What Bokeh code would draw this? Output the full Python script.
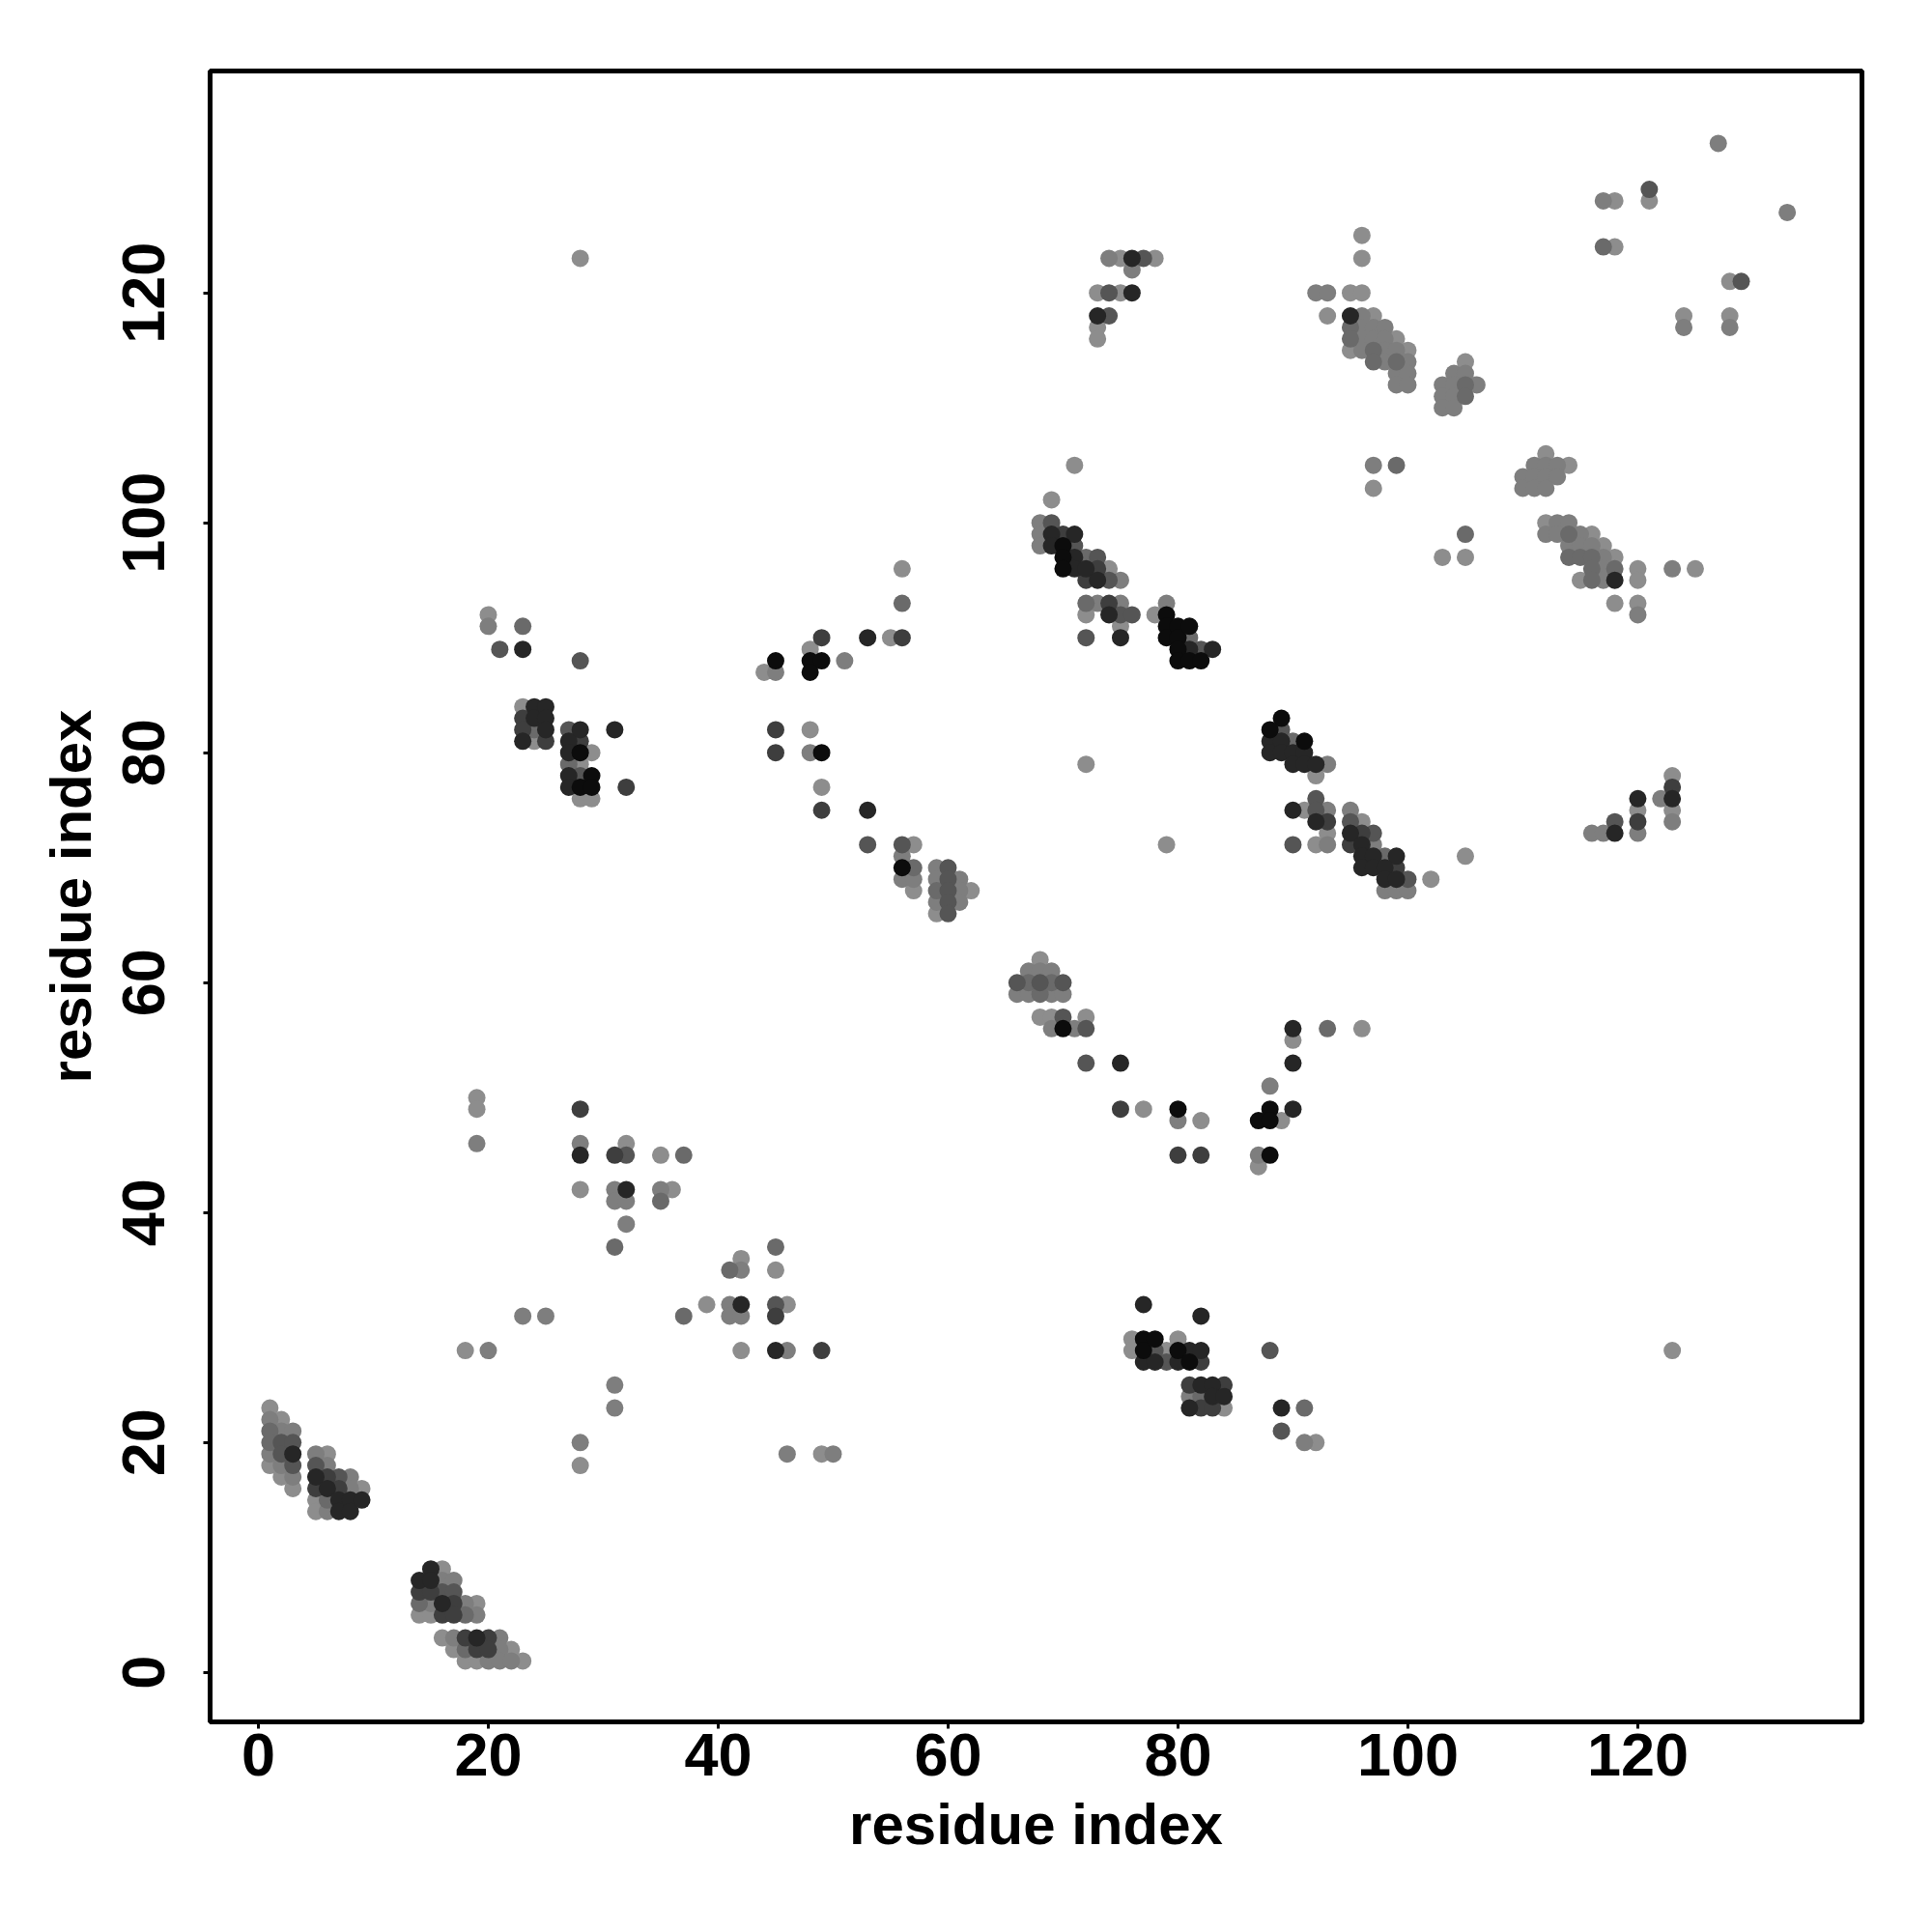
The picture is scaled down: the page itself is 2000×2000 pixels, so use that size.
from bokeh.plotting import figure
from bokeh.models import Range1d, FixedTicker, ColumnDataSource
from bokeh.embed import file_html
from bokeh.resources import INLINE

# contacts: (residue i, residue j, shade level 1 = light grey ... 7 = black)
block_helix1 = [
    (1, 23, 1), (1, 22, 2), (1, 21, 3), (1, 20, 3), (1, 19, 2), (1, 18, 1),
    (2, 22, 1), (2, 21, 2), (2, 20, 4), (2, 19, 4), (2, 18, 2), (2, 17, 1),
    (3, 21, 2), (3, 20, 4), (3, 19, 6), (3, 18, 4), (3, 17, 2), (3, 16, 1),
    (5, 19, 2), (5, 18, 4), (5, 17, 6), (5, 16, 5), (5, 15, 1), (5, 14, 1),
    (6, 19, 1), (6, 18, 2), (6, 17, 5), (6, 16, 6), (6, 15, 3), (6, 14, 2),
    (7, 17, 4), (7, 16, 5), (7, 15, 6), (7, 14, 6),
    (8, 17, 2), (8, 16, 2), (8, 15, 6), (8, 14, 6),
    (9, 16, 1), (9, 15, 6),
]

block_helix2 = [
    (14, 8, 6), (14, 7, 5), (14, 6, 3), (14, 5, 1),
    (15, 9, 6), (15, 8, 6), (15, 7, 5), (15, 6, 2), (15, 5, 1),
    (16, 9, 1), (16, 8, 2), (16, 7, 4), (16, 6, 6), (16, 5, 5), (16, 3, 1),
    (17, 8, 2), (17, 7, 4), (17, 6, 5), (17, 5, 5), (17, 3, 2), (17, 2, 1),
    (18, 6, 2), (18, 5, 3), (18, 3, 5), (18, 2, 3), (18, 1, 1),
    (19, 6, 1), (19, 5, 2), (19, 3, 6), (19, 2, 5), (19, 1, 1),
    (20, 3, 5), (20, 2, 5), (20, 1, 2),
    (21, 3, 2), (21, 2, 2), (21, 1, 2),
    (22, 2, 1), (22, 1, 2),
    (23, 1, 1),
]

block_scatter_low = [
    (19, 50, 1), (19, 49, 1), (19, 46, 2), (28, 49, 5), (28, 46, 2), (28, 45, 6),
    (31, 45, 5), (32, 46, 1), (32, 45, 4), (35, 45, 1), (37, 45, 3),
    (28, 42, 1), (31, 42, 2), (31, 41, 2), (32, 42, 6), (32, 41, 2),
    (35, 42, 2), (35, 41, 3), (36, 42, 1), (32, 39, 2), (31, 37, 3),
    (45, 37, 3), (41, 35, 3), (42, 36, 1), (42, 35, 2), (45, 35, 1),
    (23, 31, 2), (25, 31, 2), (37, 31, 3), (39, 32, 1), (41, 32, 2), (41, 31, 2),
    (42, 32, 6), (42, 31, 2), (45, 32, 4), (45, 31, 5), (46, 32, 1),
    (18, 28, 1), (20, 28, 2), (42, 28, 1), (45, 28, 6), (46, 28, 2), (49, 28, 5),
    (31, 25, 2), (31, 23, 2), (28, 20, 2), (28, 18, 1),
    (46, 19, 2), (49, 19, 1), (50, 19, 2),
]

block_sheet_a = [
    (20, 92, 1), (20, 91, 2), (23, 91, 3), (21, 89, 4), (23, 89, 6), (28, 88, 4),
    (23, 84, 1), (23, 83, 5), (23, 82, 5), (23, 81, 6),
    (24, 84, 6), (24, 83, 6), (24, 82, 3), (24, 81, 1),
    (25, 84, 6), (25, 83, 6), (25, 82, 6), (25, 81, 5),
    (27, 82, 4), (27, 81, 6), (27, 80, 6), (27, 79, 3), (27, 78, 6), (27, 77, 6),
    (28, 82, 6), (28, 81, 5), (28, 80, 7), (28, 79, 1), (28, 78, 4), (28, 77, 7), (28, 76, 1),
    (29, 80, 1), (29, 78, 7), (29, 77, 7), (29, 76, 1),
    (31, 82, 6), (32, 77, 5),
]

block_sheet_b = [
    (56, 96, 1), (56, 93, 3), (49, 90, 5), (53, 90, 6), (55, 90, 1), (56, 90, 5),
    (48, 89, 1), (45, 88, 7), (48, 88, 7), (49, 88, 7), (51, 88, 2),
    (44, 87, 1), (45, 87, 2), (48, 87, 7),
    (45, 82, 5), (48, 82, 1), (45, 80, 5), (48, 80, 2), (49, 80, 7),
    (49, 77, 1), (49, 75, 5), (53, 75, 6), (53, 72, 4),
    (56, 72, 4), (57, 72, 1), (56, 71, 2), (56, 70, 7), (57, 70, 3),
    (56, 69, 2), (57, 69, 2), (57, 68, 1),
    (59, 70, 2), (59, 69, 2), (59, 68, 3), (59, 67, 2), (59, 66, 1),
    (60, 70, 4), (60, 69, 4), (60, 68, 4), (60, 67, 4), (60, 66, 4),
    (61, 69, 2), (61, 68, 2), (61, 67, 2), (62, 68, 1),
]

block_mid = [
    (68, 62, 1), (67, 61, 2), (68, 61, 2), (69, 61, 2),
    (66, 60, 4), (67, 60, 3), (68, 60, 4), (69, 60, 3), (70, 60, 4),
    (66, 59, 2), (67, 59, 2), (68, 59, 3), (69, 59, 2), (70, 59, 2),
    (68, 57, 1), (69, 57, 1), (70, 57, 4), (72, 57, 1),
    (69, 56, 2), (70, 56, 7), (71, 56, 2), (72, 56, 4),
    (72, 53, 4), (75, 53, 6), (75, 49, 5), (77, 49, 1), (80, 49, 7),
    (80, 48, 2), (82, 48, 1), (80, 45, 5), (82, 45, 5),
]

block_band_a = [
    (71, 105, 1), (69, 102, 1), (68, 100, 2), (69, 100, 4),
    (68, 99, 2), (69, 99, 6), (70, 99, 5), (71, 99, 6),
    (68, 98, 2), (69, 98, 6), (70, 98, 7), (71, 98, 4),
    (70, 97, 7), (71, 97, 6), (72, 97, 3), (73, 97, 4),
    (70, 96, 7), (71, 96, 6), (72, 96, 6), (73, 96, 5), (74, 96, 1),
    (72, 95, 5), (73, 95, 6), (74, 95, 4), (75, 95, 2),
    (72, 93, 3), (73, 93, 2), (74, 93, 5), (75, 93, 2),
    (72, 92, 1), (74, 92, 6), (75, 92, 4), (76, 92, 4),
    (75, 91, 1), (72, 90, 4), (75, 90, 6),
    (78, 92, 1), (79, 93, 2), (79, 92, 7), (79, 91, 7), (79, 90, 7),
    (80, 91, 7), (80, 90, 7), (80, 89, 7), (80, 88, 7),
    (81, 91, 7), (81, 90, 3), (81, 89, 6), (81, 88, 7),
    (82, 89, 4), (82, 88, 7), (83, 89, 6),
]

block_band_b = [
    (89, 83, 7), (88, 82, 7), (89, 82, 4),
    (88, 81, 6), (89, 81, 6), (90, 81, 3), (91, 81, 7),
    (88, 80, 6), (89, 80, 6), (90, 80, 6), (91, 80, 6),
    (90, 79, 6), (91, 79, 6), (92, 79, 6), (93, 79, 2),
    (92, 78, 1), (92, 76, 4),
    (90, 75, 6), (91, 75, 1), (92, 75, 4), (93, 75, 2), (95, 75, 2),
    (92, 74, 6), (93, 74, 5), (95, 74, 4), (96, 74, 1),
    (93, 73, 1), (95, 73, 6), (96, 73, 5), (97, 73, 4),
    (90, 72, 4), (92, 72, 1), (93, 72, 2), (95, 72, 5), (96, 72, 6), (97, 72, 2),
    (96, 71, 6), (97, 71, 6), (98, 71, 3), (99, 71, 6),
    (96, 70, 6), (97, 70, 6), (98, 70, 6), (99, 70, 5),
    (98, 69, 6), (99, 69, 6), (100, 69, 4), (102, 69, 1),
    (98, 68, 2), (99, 68, 2), (100, 68, 2), (105, 71, 1),
    (90, 56, 6), (93, 56, 3), (96, 56, 1), (90, 55, 1), (90, 53, 6),
    (88, 51, 2), (88, 49, 7), (90, 49, 6), (87, 48, 7), (88, 48, 7), (89, 48, 1),
    (87, 45, 2), (88, 45, 7), (87, 44, 1),
]

block_low_right = [
    (77, 32, 6), (82, 31, 6), (88, 28, 4),
    (76, 29, 1), (76, 28, 1),
    (77, 29, 7), (77, 28, 7), (77, 27, 6),
    (78, 29, 7), (78, 28, 4), (78, 27, 6),
    (79, 28, 1), (79, 27, 4),
    (80, 29, 1), (80, 28, 7), (80, 27, 6),
    (81, 28, 6), (81, 27, 7), (82, 28, 6), (82, 27, 5),
    (81, 25, 5), (81, 24, 2), (81, 23, 6),
    (82, 25, 6), (82, 24, 3), (82, 23, 5),
    (83, 25, 6), (83, 24, 6), (83, 23, 5),
    (84, 25, 5), (84, 24, 6), (84, 23, 1),
    (89, 23, 6), (91, 23, 3), (89, 21, 4), (91, 20, 2), (92, 20, 1),
]

block_top_mid = [
    (74, 123, 2), (75, 123, 1), (76, 123, 6), (77, 123, 4), (78, 123, 1), (76, 122, 2),
    (73, 120, 1), (74, 120, 4), (75, 120, 1), (76, 120, 6),
    (73, 118, 6), (74, 118, 4), (73, 117, 1), (73, 116, 1),
    (96, 125, 1), (96, 123, 1),
    (92, 120, 2), (93, 120, 2), (95, 120, 1), (96, 120, 1),
    (93, 118, 1), (95, 118, 6), (96, 118, 2), (97, 118, 1),
    (95, 117, 3), (96, 117, 2), (97, 117, 2), (98, 117, 2),
    (95, 116, 3), (96, 116, 2), (97, 116, 2), (98, 116, 2), (99, 116, 1),
    (95, 115, 1), (96, 115, 2), (97, 115, 3), (98, 115, 2), (99, 115, 2), (100, 115, 1),
    (97, 114, 3), (98, 114, 2), (99, 114, 3), (100, 114, 2),
    (99, 113, 2), (100, 113, 2), (99, 112, 2), (100, 112, 2),
    (105, 114, 1), (104, 113, 2), (105, 113, 2),
    (103, 112, 2), (104, 112, 2), (105, 112, 3), (106, 112, 2),
    (103, 111, 2), (104, 111, 2), (105, 111, 3), (103, 110, 2), (104, 110, 2),
    (97, 105, 2), (99, 105, 3), (97, 103, 1), (105, 99, 3), (103, 97, 1), (105, 97, 1),
]

block_top_right = [
    (127, 133, 2), (133, 127, 2), (121, 129, 4), (121, 128, 1),
    (117, 128, 2), (118, 128, 1), (117, 124, 3), (118, 124, 1),
    (128, 121, 1), (129, 121, 4), (124, 118, 1), (124, 117, 2),
    (128, 118, 1), (128, 117, 2),
    (112, 106, 1),
    (111, 105, 2), (112, 105, 2), (113, 105, 2), (114, 105, 1),
    (110, 104, 2), (111, 104, 2), (112, 104, 2), (113, 104, 2),
    (110, 103, 2), (111, 103, 2), (112, 103, 2),
    (112, 100, 1), (113, 100, 2), (114, 100, 2),
    (112, 99, 2), (113, 99, 2), (114, 99, 3), (115, 99, 2), (116, 99, 1),
    (114, 98, 2), (115, 98, 2), (116, 98, 2), (117, 98, 1),
    (114, 97, 3), (115, 97, 3), (116, 97, 3), (117, 97, 2), (118, 97, 1),
    (116, 96, 3), (117, 96, 2), (118, 96, 3), (120, 96, 1), (123, 96, 2), (125, 96, 1),
    (115, 95, 1), (116, 95, 3), (117, 95, 2), (118, 95, 6), (120, 95, 1),
    (118, 93, 1), (120, 93, 1), (120, 92, 2),
    (116, 73, 2), (117, 73, 2), (118, 73, 6), (120, 73, 2),
    (118, 74, 4), (120, 74, 5), (120, 75, 1), (120, 76, 6),
    (122, 76, 2), (123, 76, 6), (123, 77, 5), (123, 78, 1), (123, 75, 1), (123, 74, 2),
]

block_isolated = [(72, 79, 1), (79, 72, 1), (123, 28, 1), (28, 123, 1)]

x_ticks = [0, 20, 40, 60, 80, 100, 120]
y_ticks = [0, 20, 40, 60, 80, 100, 120]
axis_title = "residue index"

shade_colors = {1: "#8d8d8d", 2: "#7e7e7e", 3: "#6a6a6a", 4: "#555555",
                5: "#3e3e3e", 6: "#262626", 7: "#0c0c0c"}

blocks = [block_helix1, block_helix2, block_scatter_low, block_sheet_a, block_sheet_b,
          block_mid, block_band_a, block_band_b, block_low_right, block_top_mid,
          block_top_right, block_isolated]
allpts = [t for b in blocks for t in b]
allpts.sort(key=lambda t: t[2])
src = ColumnDataSource(dict(
    i=[t[0] for t in allpts],
    j=[t[1] for t in allpts],
    c=[shade_colors[t[2]] for t in allpts],
))

p = figure(frame_width=1710, frame_height=1709,
           min_border_left=217, min_border_top=73, min_border_right=50, min_border_bottom=190,
           x_range=Range1d(-4.2, 139.5), y_range=Range1d(-4.3, 139.3),
           output_backend="svg", toolbar_location=None)

p.scatter("i", "j", source=src, size=18, fill_color="c", line_color=None)

p.grid.visible = False
p.outline_line_color = "black"
p.outline_line_width = 5
p.background_fill_color = "white"
p.border_fill_color = "white"

p.xaxis.ticker = FixedTicker(ticks=x_ticks)
p.yaxis.ticker = FixedTicker(ticks=y_ticks)
for ax in (p.xaxis, p.yaxis):
    ax.axis_label = axis_title
    ax.axis_line_color = None
    ax.major_tick_in = 0
    ax.major_tick_out = 7
    ax.major_tick_line_width = 3
    ax.minor_tick_line_color = None
    ax.major_label_text_font = "Liberation Sans"
    ax.major_label_text_font_style = "bold"
    ax.major_label_text_font_size = "63px"
    ax.major_label_text_color = "black"
    ax.axis_label_text_font = "Liberation Sans"
    ax.axis_label_text_font_style = "bold"
    ax.axis_label_text_font_size = "60px"
    ax.axis_label_text_color = "black"
p.xaxis.major_label_standoff = 5
p.xaxis.axis_label_standoff = 14
p.yaxis.major_label_standoff = 40
p.yaxis.axis_label_standoff = 18
p.yaxis.major_label_orientation = "vertical"

open("out.html", "w").write(file_html(p, INLINE))
